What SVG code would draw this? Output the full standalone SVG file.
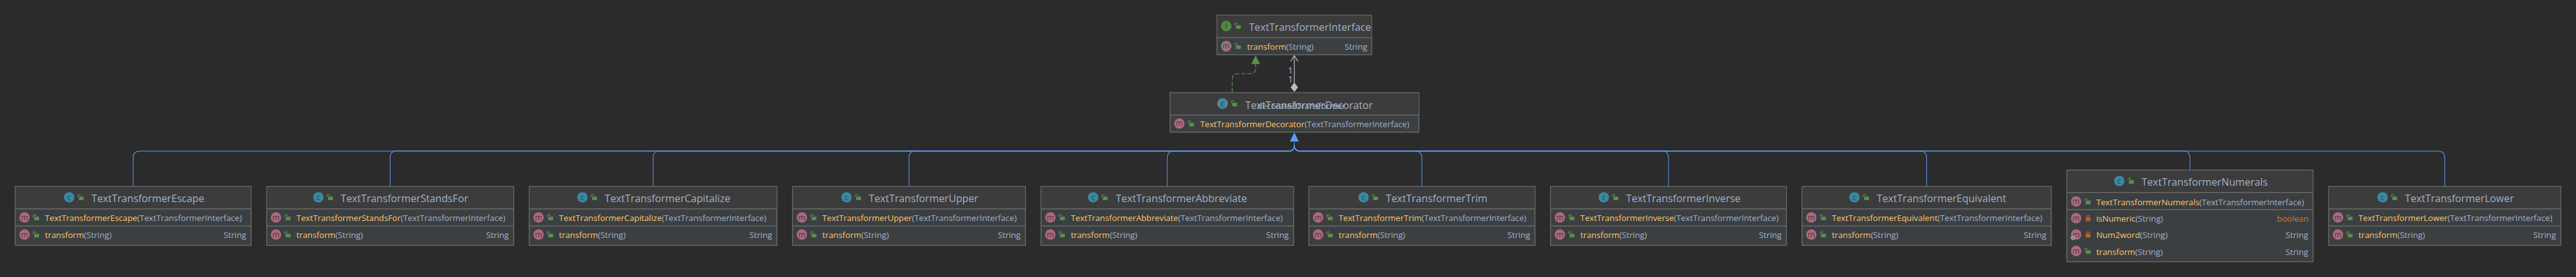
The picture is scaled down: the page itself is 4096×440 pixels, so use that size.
<svg xmlns="http://www.w3.org/2000/svg" width="4096" height="440" viewBox="0 0 4096 440">
<style>
text{font-family:"Open Sans","Noto Sans","Liberation Sans",sans-serif;font-size:22.4px;fill:#a0b2cb}
.t{font-size:27.4px}
.n{font-size:24px}
.o{fill:#ffc66d}
.b{fill:#cc7832}
.e{text-anchor:end}
.box{fill:#3c3f41;stroke:#6a6a6a;stroke-width:2.5}
.h{fill:#3c3c3c}
.d{fill:none;stroke:#6a6a6a;stroke-width:2.5}
.ln{fill:none;stroke:#589df6;stroke-width:1.7}
.g{font-size:21px;text-anchor:middle}
</style>
<defs>
<g id="lock"><path d="M23.5 -1V-4a3.4 3.4 0 0 1 6.8 0" fill="none" stroke="#59904a" stroke-width="2.2"/><rect x="26" y="-2" width="13" height="9.5" fill="#59904a"/></g>
<g id="plock"><path d="M28.5 -2V-4a3.4 3.4 0 0 1 6.8 0V-2" fill="none" stroke="#bb6128" stroke-width="2.4"/><rect x="26" y="-2" width="12.5" height="10" fill="#bb6128"/></g>
<g id="m"><circle r="14" fill="#ab6a7c"/><text class="g" y="7" style="fill:#5a3442">m</text><use href="#lock"/></g>
<g id="mp"><circle r="14" fill="#ab6a7c"/><text class="g" y="7" style="fill:#5a3442">m</text><use href="#plock"/></g>
<g id="c"><circle r="14" fill="#3b88a3"/><text class="g" y="7" style="fill:#27485a">c</text><use href="#lock"/></g>
</defs>
<rect width="4096" height="440" fill="#2b2b2b"/>
<g transform="scale(0.5914)">
<g id="connectors">
<path class="ln" d="M358 500V424Q358 406 376 406H3464Q3480 406 3480 390V378"/>
<path class="ln" d="M1049 500V423Q1049 405.6 1067 405.6H3464Q3480 405.6 3480 390"/>
<path class="ln" d="M1756 500V424Q1756 406.4 1770 406.4H3464Q3480 406.4 3480 390"/>
<path class="ln" d="M2444 500V424Q2444 405.2 2460 405.2H3464Q3480 405.2 3480 390"/>
<path class="ln" d="M3138.500 500V424Q3138.500 406.800 3154 406.800H3464Q3480 406.800 3480 390"/>
<path class="ln" d="M3823 500V424Q3823 406.800 3807 406.800H3496Q3480 406.800 3480 390"/>
<path class="ln" d="M4486 500V424Q4486 405.200 4470 405.200H3496Q3480 405.200 3480 390"/>
<path class="ln" d="M5180 500V424Q5180 406.400 5164 406.400H3496Q3480 406.400 3480 390"/>
<path class="ln" d="M5888 456V424Q5888 405.600 5872 405.600H3496Q3480 405.600 3480 390"/>
<path class="ln" d="M6573 500V424Q6573 406 6555 406H3496Q3480 406 3480 390"/>
<polygon points="3480,356 3492,380 3468,380" fill="#589df6"/>
<path d="M3313 248V213Q3313 198 3328 198H3361Q3376 198 3376 183V172" fill="none" stroke="#59904a" stroke-width="2.2" stroke-dasharray="12 5"/>
<polygon points="3376,149 3388,172 3364,172" fill="#59904a"/>
<path d="M3470 165L3480 149L3490 165M3480 149V224" fill="none" stroke="#b4b4b4" stroke-width="2.2"/>
<polygon points="3480,222 3490,234.500 3480,247 3470,234.500" fill="#bbbbbb"/>
<text class="n" x="3463" y="197">1</text>
<text class="n" x="3463" y="221">1</text>
</g>
<g id="interface">
<rect class="box" x="3272" y="41" width="416" height="106"/>
<rect class="h" x="3273" y="42" width="414" height="59"/>
<path class="d" d="M3272 101H3688"/>
<circle cx="3297" cy="70" r="14" fill="#4f8a3e"/><text class="g" x="3297" y="77" style="fill:#2f3a2c">I</text><use href="#lock" x="3297" y="70"/>
<text class="t" x="3358" y="83">TextTransformerInterface</text>
<circle cx="3297" cy="124" r="14" fill="#7a8791"/><path d="M3289 112.500A14 14 0 0 1 3305 112.500V135.500A14 14 0 0 1 3289 135.500Z" fill="#ab6a7c"/><text class="g" x="3297" y="131" style="fill:#5a3442">m</text><use href="#lock" x="3297" y="124"/>
<text x="3353" y="133"><tspan class="o">transform</tspan>(String)</text>
<text class="e" x="3676" y="133">String</text>
</g>
<g id="decorator">
<rect class="box" x="3146" y="249" width="669" height="106"/>
<rect class="h" x="3147" y="250" width="667" height="59"/>
<path class="d" d="M3146 309H3815"/>
<circle cx="3287" cy="278" r="14" fill="#7a8791"/><path d="M3278 267A14 14 0 0 1 3296 267V289A14 14 0 0 1 3278 289Z" fill="#3b88a3"/><text class="g" x="3287" y="285" style="fill:#27485a">c</text><use href="#lock" x="3287" y="278"/>
<text class="t" x="3348" y="292">TextTransformerDecorator</text>
<text x="3380" y="292">decoratedTransformer</text>
<use href="#m" x="3171" y="332"/>
<text x="3227" y="342"><tspan class="o">TextTransformerDecorator</tspan>(TextTransformerInterface)</text>
</g>
<g id="escape">
<rect class="box" x="41" y="501" width="634" height="158"/>
<rect class="h" x="42" y="502" width="632" height="59"/>
<path class="d" d="M41 561H675M41 607H675"/>
<use href="#c" x="186" y="530"/>
<text class="t" x="246" y="543">TextTransformerEscape</text>
<use href="#m" x="66" y="584"/>
<text x="121" y="594"><tspan class="o">TextTransformerEscape</tspan>(TextTransformerInterface)</text>
<use href="#m" x="66" y="630"/>
<text x="121" y="640"><tspan class="o">transform</tspan>(String)</text>
<text class="e" x="662" y="640">String</text>
</g>
<g id="standsfor">
<rect class="box" x="717" y="501" width="664" height="158"/>
<rect class="h" x="718" y="502" width="662" height="59"/>
<path class="d" d="M717 561H1381M717 607H1381"/>
<use href="#c" x="856" y="530"/>
<text class="t" x="916" y="543">TextTransformerStandsFor</text>
<use href="#m" x="742" y="584"/>
<text x="797" y="594"><tspan class="o">TextTransformerStandsFor</tspan>(TextTransformerInterface)</text>
<use href="#m" x="742" y="630"/>
<text x="797" y="640"><tspan class="o">transform</tspan>(String)</text>
<text class="e" x="1368" y="640">String</text>
</g>
<g id="capitalize">
<rect class="box" x="1423" y="501" width="666" height="158"/>
<rect class="h" x="1424" y="502" width="664" height="59"/>
<path class="d" d="M1423 561H2089M1423 607H2089"/>
<use href="#c" x="1566" y="530"/>
<text class="t" x="1626" y="543">TextTransformerCapitalize</text>
<use href="#m" x="1448" y="584"/>
<text x="1503" y="594"><tspan class="o">TextTransformerCapitalize</tspan>(TextTransformerInterface)</text>
<use href="#m" x="1448" y="630"/>
<text x="1503" y="640"><tspan class="o">transform</tspan>(String)</text>
<text class="e" x="2076" y="640">String</text>
</g>
<g id="upper">
<rect class="box" x="2131" y="501" width="626" height="158"/>
<rect class="h" x="2132" y="502" width="624" height="59"/>
<path class="d" d="M2131 561H2757M2131 607H2757"/>
<use href="#c" x="2276" y="530"/>
<text class="t" x="2336" y="543">TextTransformerUpper</text>
<use href="#m" x="2156" y="584"/>
<text x="2211" y="594"><tspan class="o">TextTransformerUpper</tspan>(TextTransformerInterface)</text>
<use href="#m" x="2156" y="630"/>
<text x="2211" y="640"><tspan class="o">transform</tspan>(String)</text>
<text class="e" x="2744" y="640">String</text>
</g>
<g id="abbreviate">
<rect class="box" x="2799" y="501" width="679" height="158"/>
<rect class="h" x="2800" y="502" width="677" height="59"/>
<path class="d" d="M2799 561H3478M2799 607H3478"/>
<use href="#c" x="2939" y="530"/>
<text class="t" x="3000" y="543">TextTransformerAbbreviate</text>
<use href="#m" x="2824" y="584"/>
<text x="2879" y="594"><tspan class="o">TextTransformerAbbreviate</tspan>(TextTransformerInterface)</text>
<use href="#m" x="2824" y="630"/>
<text x="2879" y="640"><tspan class="o">transform</tspan>(String)</text>
<text class="e" x="3465" y="640">String</text>
</g>
<g id="trim">
<rect class="box" x="3519" y="501" width="608" height="158"/>
<rect class="h" x="3520" y="502" width="606" height="59"/>
<path class="d" d="M3519 561H4127M3519 607H4127"/>
<use href="#c" x="3666" y="530"/>
<text class="t" x="3726" y="543">TextTransformerTrim</text>
<use href="#m" x="3544" y="584"/>
<text x="3599" y="594"><tspan class="o">TextTransformerTrim</tspan>(TextTransformerInterface)</text>
<use href="#m" x="3544" y="630"/>
<text x="3599" y="640"><tspan class="o">transform</tspan>(String)</text>
<text class="e" x="4114" y="640">String</text>
</g>
<g id="inverse">
<rect class="box" x="4169" y="501" width="634" height="158"/>
<rect class="h" x="4170" y="502" width="632" height="59"/>
<path class="d" d="M4169 561H4803M4169 607H4803"/>
<use href="#c" x="4312" y="530"/>
<text class="t" x="4372" y="543">TextTransformerInverse</text>
<use href="#m" x="4194" y="584"/>
<text x="4249" y="594"><tspan class="o">TextTransformerInverse</tspan>(TextTransformerInterface)</text>
<use href="#m" x="4194" y="630"/>
<text x="4249" y="640"><tspan class="o">transform</tspan>(String)</text>
<text class="e" x="4790" y="640">String</text>
</g>
<g id="equivalent">
<rect class="box" x="4845" y="501" width="670" height="158"/>
<rect class="h" x="4846" y="502" width="668" height="59"/>
<path class="d" d="M4845 561H5515M4845 607H5515"/>
<use href="#c" x="4986" y="530"/>
<text class="t" x="5046" y="543">TextTransformerEquivalent</text>
<use href="#m" x="4870" y="584"/>
<text x="4925" y="594"><tspan class="o">TextTransformerEquivalent</tspan>(TextTransformerInterface)</text>
<use href="#m" x="4870" y="630"/>
<text x="4925" y="640"><tspan class="o">transform</tspan>(String)</text>
<text class="e" x="5502" y="640">String</text>
</g>
<g id="numerals">
<rect class="box" x="5557" y="457" width="662" height="246"/>
<rect class="h" x="5558" y="458" width="660" height="59"/>
<path class="d" d="M5557 517H6219M5557 563H6219"/>
<use href="#c" x="5698" y="486"/>
<text class="t" x="5758" y="499">TextTransformerNumerals</text>
<use href="#m" x="5582" y="541"/>
<text x="5636" y="551"><tspan class="o">TextTransformerNumerals</tspan>(TextTransformerInterface)</text>
<use href="#mp" x="5582" y="586"/>
<text x="5636" y="596"><tspan class="o">isNumeric</tspan>(String)</text>
<text class="e b" x="6207" y="596">boolean</text>
<use href="#mp" x="5582" y="630"/>
<polygon points="5573,634 5578,639 5573,644 5568,639" fill="none" stroke="#9aa5ad" stroke-width="3"/>
<text x="5636" y="640"><tspan class="o">Num2word</tspan>(String)</text>
<text class="e" x="6206" y="640">String</text>
<use href="#m" x="5582" y="674"/>
<text x="5636" y="684"><tspan class="o">transform</tspan>(String)</text>
<text class="e" x="6206" y="684">String</text>
</g>
<g id="lower">
<rect class="box" x="6261" y="501" width="624" height="158"/>
<rect class="h" x="6262" y="502" width="622" height="59"/>
<path class="d" d="M6261 561H6885M6261 607H6885"/>
<use href="#c" x="6406" y="530"/>
<text class="t" x="6466" y="543">TextTransformerLower</text>
<use href="#m" x="6286" y="584"/>
<text x="6341" y="594"><tspan class="o">TextTransformerLower</tspan>(TextTransformerInterface)</text>
<use href="#m" x="6286" y="630"/>
<text x="6341" y="640"><tspan class="o">transform</tspan>(String)</text>
<text class="e" x="6872" y="640">String</text>
</g>
</g>
</svg>
